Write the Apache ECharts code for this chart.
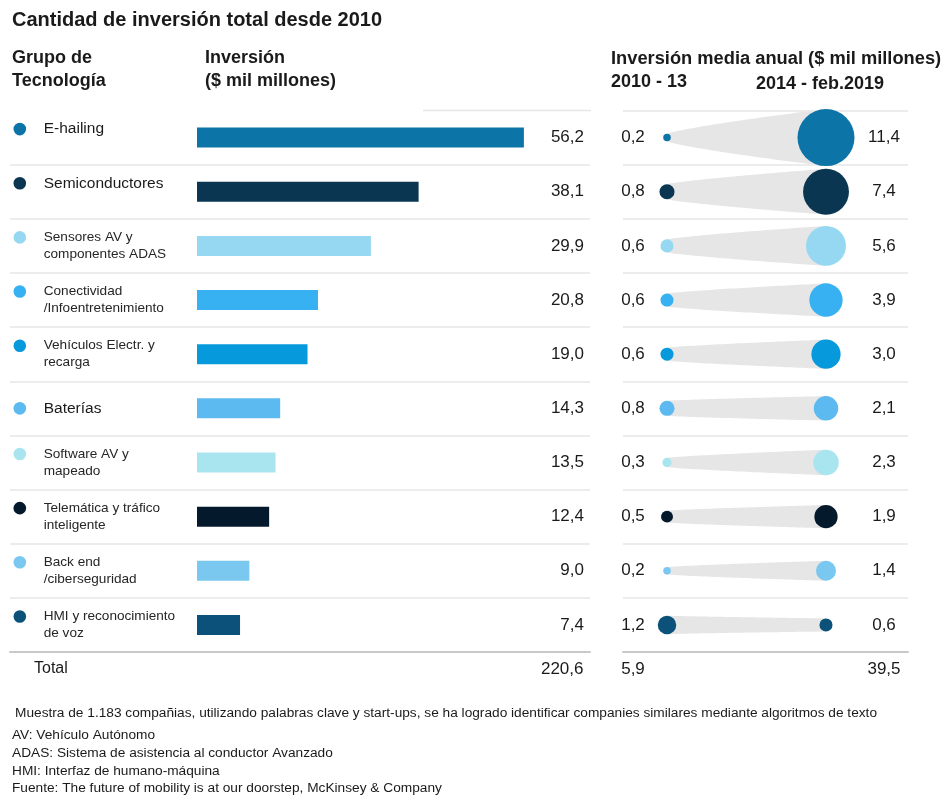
<!DOCTYPE html>
<html>
<head>
<meta charset="utf-8">
<script src="https://cdn.jsdelivr.net/npm/echarts@6/dist/echarts.min.js"></script>
<style>
  html, body { margin: 0; padding: 0; background: #fff; }
  #chart { width: 946px; height: 796px; }
</style>
</head>
<body>
<div id="chart"></div>
<script>
// Technology groups (line breaks as printed)
const categories = [
  'E-hailing',
  'Semiconductores',
  'Sensores AV y\ncomponentes ADAS',
  'Conectividad\n/Infoentretenimiento',
  'Vehículos Electr. y\nrecarga',
  'Baterías',
  'Software AV y\nmapeado',
  'Telemática y tráfico\ninteligente',
  'Back end\n/ciberseguridad',
  'HMI y reconocimiento\nde voz'
];
// Total investment since 2010 ($ mil millones)
const investment = [56.2, 38.1, 29.9, 20.8, 19.0, 14.3, 13.5, 12.4, 9.0, 7.4];
// Average annual investment per period ($ mil millones)
const periods = ['2010 - 13', '2014 - feb.2019'];
const avgEarly = [0.2, 0.8, 0.6, 0.6, 0.6, 0.8, 0.3, 0.5, 0.2, 1.2];
const avgLate = [11.4, 7.4, 5.6, 3.9, 3.0, 2.1, 2.3, 1.9, 1.4, 0.6];
// Totals as published
const totalInvestment = 220.6;
const totalEarly = 5.9;
const totalLate = 39.5;

const colors = ['#0d74a8', '#0a3651', '#96d8f1', '#38b1f3', '#0699dc',
                '#5cbaf1', '#a9e5ef', '#041a2c', '#7ac8f0', '#0b517a'];
// single-line labels that sit on the first text line of the row
const firstLineLabels = ['E-hailing', 'Semiconductores'];

const FONT = '"Liberation Sans", Arial, Helvetica, sans-serif';
const TXT = '#1a1a1a';
const fmt = v => v.toFixed(1).replace('.', ',');
// bubble area proportional to value
const radius = v => 8.44 * Math.sqrt(v);

const rich = {
  gap: { width: 17.6, height: 12 },
  pad: { width: 30.2, height: 12 },
  big: { fontSize: 15.5, fontFamily: FONT, color: TXT, lineHeight: 17 },
  sm: { fontSize: 13.6, fontFamily: FONT, color: '#262626', lineHeight: 17 },
  blank: { height: 17, width: 1 }
};
colors.forEach((c, i) => {
  rich['d' + i] = { width: 12.6, height: 12.6, borderRadius: 6.3, backgroundColor: c };
});

function labelFormatter(value, index) {
  const lines = value.split('\n');
  if (lines.length === 1) {
    let s = '{d' + index + '|}{gap|}{big|' + value + '}';
    if (firstLineLabels.indexOf(value) >= 0) s += '\n{blank|}';
    return s;
  }
  return '{d' + index + '|}{gap|}{sm|' + lines[0] + '}\n{pad|}{sm|' + lines[1] + '}';
}

// gray tapered band flowing from the first-period bubble to the second one
function renderBand(params, api) {
  const row = api.value(0);
  const r1 = radius(api.value(1));
  const r2 = radius(api.value(2));
  const p1 = api.coord([0, row]);
  const p2 = api.coord([1, row]);
  const x1 = p1[0], x2 = p2[0], y = p1[1];
  const N = 40;
  const top = [], bottom = [];
  for (let k = 0; k <= N; k++) {
    const u = k / N;
    const h = r1 + (r2 - r1) * Math.pow(u, 0.8);
    const x = x1 + (x2 - x1) * u;
    top.push([x, y - h]);
    bottom.push([x, y + h]);
  }
  const pts = top.concat(bottom.reverse());
  return { type: 'polygon', shape: { points: pts }, style: { fill: '#e6e6e6' } };
}

const TOP = 110.5, HEIGHT = 541.5;
const lineAxisY = (gridIndex, showTop) => ({
  type: 'category', gridIndex: gridIndex, inverse: true, data: categories,
  axisLine: { show: false }, axisTick: { show: false }, axisLabel: { show: false },
  splitLine: { show: true, showMinLine: showTop, showMaxLine: false,
               lineStyle: { color: '#e6e6e6', width: 1.6 } }
});
const lineAxisX = gridIndex => ({
  type: 'value', gridIndex: gridIndex, min: 0, max: 1,
  axisLine: { show: true, lineStyle: { color: '#c9c9c9', width: 2 } },
  axisTick: { show: false }, axisLabel: { show: false }, splitLine: { show: false }
});

const headerText = (text, x, y, extra) => ({
  type: 'text', x: x, y: y, silent: true,
  style: Object.assign({ text: text, fill: TXT, fontFamily: FONT, fontSize: 18,
    fontWeight: 'bold', verticalAlign: 'middle', align: 'left' }, extra || {})
});
const noteText = (text, x, y) => ({
  type: 'text', x: x, y: y, silent: true,
  style: { text: text, fill: TXT, fontFamily: FONT, fontSize: 13.7,
    verticalAlign: 'middle', align: 'left' }
});

const option = {
  animation: false,
  backgroundColor: '#ffffff',
  textStyle: { fontFamily: FONT },
  grid: [
    { left: 197, top: TOP, width: 349, height: HEIGHT },   // bars
    { left: 10, top: TOP, width: 580, height: HEIGHT },    // left rules
    { left: 623, top: TOP, width: 285, height: HEIGHT },   // right rules
    { left: 587.5, top: TOP, width: 318, height: HEIGHT }  // bubbles
  ],
  xAxis: [
    { type: 'value', gridIndex: 0, min: 0, max: 60, show: false },
    lineAxisX(1),
    lineAxisX(2),
    { type: 'category', gridIndex: 3, data: periods, show: false }
  ],
  yAxis: [
    { type: 'category', gridIndex: 0, inverse: true, data: categories,
      axisLine: { show: false }, axisTick: { show: false },
      axisLabel: { interval: 0, align: 'left', margin: 183.5,
                   formatter: labelFormatter, rich: rich } },
    { type: 'category', gridIndex: 0, inverse: true, position: 'right', data: categories,
      axisLine: { show: false }, axisTick: { show: false },
      axisLabel: { interval: 0, align: 'right', margin: 38, fontSize: 17,
                   color: TXT, fontFamily: FONT,
                   formatter: (v, i) => fmt(investment[i]) } },
    lineAxisY(1, false),
    lineAxisY(2, true),
    { type: 'category', gridIndex: 3, inverse: true, data: categories, show: false }
  ],
  series: [
    {
      type: 'bar', xAxisIndex: 0, yAxisIndex: 0, barWidth: 20, silent: true,
      data: investment.map((v, i) => ({ value: v, itemStyle: { color: colors[i] } }))
    },
    {
      type: 'custom', xAxisIndex: 3, yAxisIndex: 4, silent: true, z: 1,
      renderItem: renderBand,
      data: categories.map((c, i) => [i, avgEarly[i], avgLate[i]])
    },
    {
      name: periods[0], type: 'scatter', xAxisIndex: 3, yAxisIndex: 4, z: 3, silent: true,
      data: avgEarly.map((v, i) => [periods[0], categories[i], v]),
      symbolSize: val => 2 * radius(val[2]),
      itemStyle: { opacity: 1, color: p => colors[p.dataIndex] },
      label: { show: true, position: 'inside', offset: [-34, 0], fontSize: 17,
               color: TXT, fontFamily: FONT, formatter: p => fmt(p.value[2]) }
    },
    {
      name: periods[1], type: 'scatter', xAxisIndex: 3, yAxisIndex: 4, z: 3, silent: true,
      data: avgLate.map((v, i) => [periods[1], categories[i], v]),
      symbolSize: val => 2 * radius(val[2]),
      itemStyle: { opacity: 1, color: p => colors[p.dataIndex] },
      label: { show: true, position: 'inside', offset: [58, 0], fontSize: 17,
               color: TXT, fontFamily: FONT, formatter: p => fmt(p.value[2]) }
    }
  ],
  graphic: [
    headerText('Cantidad de inversión total desde 2010', 12, 20.5, { fontSize: 20 }),
    headerText('Grupo de', 12, 58.5),
    headerText('Tecnología', 12, 81.5),
    headerText('Inversión', 205, 58.5),
    headerText('($ mil millones)', 205, 81.5),
    headerText('Inversión media anual ($ mil millones)', 611, 59, { fontSize: 18.3 }),
    headerText(periods[0], 611, 82),
    headerText(periods[1], 756, 84.5),
    { type: 'line', silent: true, shape: { x1: 423, y1: 110.5, x2: 591, y2: 110.5 },
      style: { stroke: '#e6e6e6', lineWidth: 1.6 } },
    { type: 'text', x: 34, y: 669, silent: true,
      style: { text: 'Total', fill: TXT, fontFamily: FONT, fontSize: 16, verticalAlign: 'middle' } },
    { type: 'text', x: 583.5, y: 669, silent: true,
      style: { text: fmt(totalInvestment), fill: TXT, fontFamily: FONT, fontSize: 17,
               verticalAlign: 'middle', align: 'right' } },
    { type: 'text', x: 633, y: 669, silent: true,
      style: { text: fmt(totalEarly), fill: TXT, fontFamily: FONT, fontSize: 17,
               verticalAlign: 'middle', align: 'center' } },
    { type: 'text', x: 884, y: 669, silent: true,
      style: { text: fmt(totalLate), fill: TXT, fontFamily: FONT, fontSize: 17,
               verticalAlign: 'middle', align: 'center' } },
    noteText('Muestra de 1.183 compañias, utilizando palabras clave y start-ups, se ha logrado identificar companies similares mediante algoritmos de texto', 15, 713),
    noteText('AV: Vehículo Autónomo', 12, 735),
    noteText('ADAS: Sistema de asistencia al conductor Avanzado', 12, 753),
    noteText('HMI: Interfaz de humano-máquina', 12, 771),
    noteText('Fuente: The future of mobility is at our doorstep, McKinsey & Company', 12, 788.5)
  ]
};

const chart = echarts.init(document.getElementById('chart'), null, { renderer: 'canvas' });
chart.setOption(option);
</script>
</body>
</html>
